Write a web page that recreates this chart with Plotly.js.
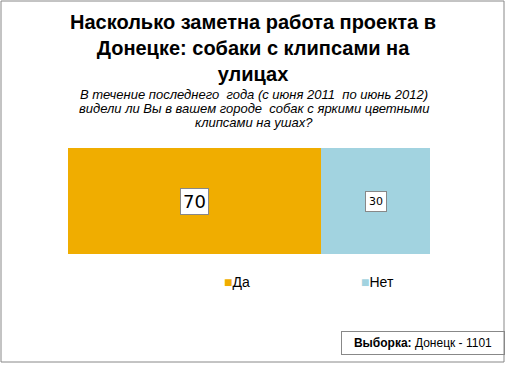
<!DOCTYPE html>
<html><head><meta charset="utf-8">
<script src="https://cdn.plot.ly/plotly-3.0.1.min.js"></script>
<style>body{margin:0;background:#fff}#chart{width:507px;height:365px}</style>
</head><body><div id="chart"></div>
<script>
const categories = ['Да', 'Нет'];
const values = [70, 30];
const colors = ['#F0AD00', '#A2D3E0'];
const labelSizes = [18, 11];
const titleText = 'Насколько заметна работа проекта в<br>Донецке: собаки с клипсами на<br>улицах';
const subtitleLines = ['В течение последнего&nbsp; года (с июня 2011&nbsp; по июнь 2012)', 'видели ли Вы в вашем городе&nbsp; собак с яркими цветными', 'клипсами на ушах?'];
const sampleText = '<b>Выборка:</b> Донецк - 1101';

const W = 507, H = 365, L = 68, R = 430, T = 148, B = 254;
const fx = px => (px - L) / (R - L);
const fy = py => (B - py) / (B - T);

const traces = categories.map((c, i) => ({
  type: 'bar', orientation: 'h', name: c,
  x: [values[i]], y: [0], width: 1,
  marker: {color: colors[i], line: {width: 0}},
  hoverinfo: 'skip'
}));

const annotations = [];
let cum = 0;
values.forEach((v, i) => {
  annotations.push({
    x: cum + v / 2, y: 0, xref: 'x', yref: 'y', text: String(v), showarrow: false,
    font: {family: 'DejaVu Sans', size: labelSizes[i], color: '#000'},
    bgcolor: '#fff', bordercolor: '#888', borderwidth: 1, borderpad: i === 0 ? 2 : 3
  });
  cum += v;
});
const legendX = [224, 361];
categories.forEach((c, i) => {
  annotations.push({
    x: fx(legendX[i] - 2), y: fy(282), xref: 'paper', yref: 'paper', xanchor: 'left', yanchor: 'middle',
    text: '<span style="color:' + colors[i] + '">■</span>' + c, showarrow: false,
    font: {family: 'Liberation Sans', size: 14, color: '#000'}
  });
});
annotations.push({
  x: fx(253), y: fy(9), xref: 'paper', yref: 'paper', xanchor: 'center', yanchor: 'top',
  text: '<b>' + titleText + '</b>', showarrow: false,
  font: {family: 'Liberation Sans', size: 20, color: '#000'}
});
subtitleLines.forEach((t, i) => {
  annotations.push({
    x: fx(254), y: fy(94.5 + 14 * i), xref: 'paper', yref: 'paper', xanchor: 'center', yanchor: 'middle',
    text: '<i>' + t + '</i>', showarrow: false,
    font: {family: 'Liberation Sans', size: 13, color: '#000'}
  });
});
annotations.push({
  x: fx(423), y: fy(343), xref: 'paper', yref: 'paper', xanchor: 'center', yanchor: 'middle',
  text: sampleText, showarrow: false, width: 160, height: 20,
  bordercolor: '#888', borderwidth: 1, borderpad: 1,
  font: {family: 'Liberation Sans', size: 12, color: '#000'}
});

const layout = {
  width: W, height: H,
  margin: {l: L, r: W - R, t: T, b: H - B, pad: 0},
  paper_bgcolor: '#fff', plot_bgcolor: '#fff',
  barmode: 'stack', bargap: 0, showlegend: false,
  xaxis: {range: [0, 100], visible: false, fixedrange: true},
  yaxis: {range: [-0.5, 0.5], visible: false, fixedrange: true},
  annotations: annotations,
  shapes: [{type: 'rect', xref: 'paper', yref: 'paper', x0: fx(1), x1: fx(504), y0: fy(1), y1: fy(362),
    line: {color: '#888', width: 1}, fillcolor: 'rgba(0,0,0,0)'}]
};
Plotly.newPlot('chart', traces, layout, {displayModeBar: false, staticPlot: true});
</script></body></html>
